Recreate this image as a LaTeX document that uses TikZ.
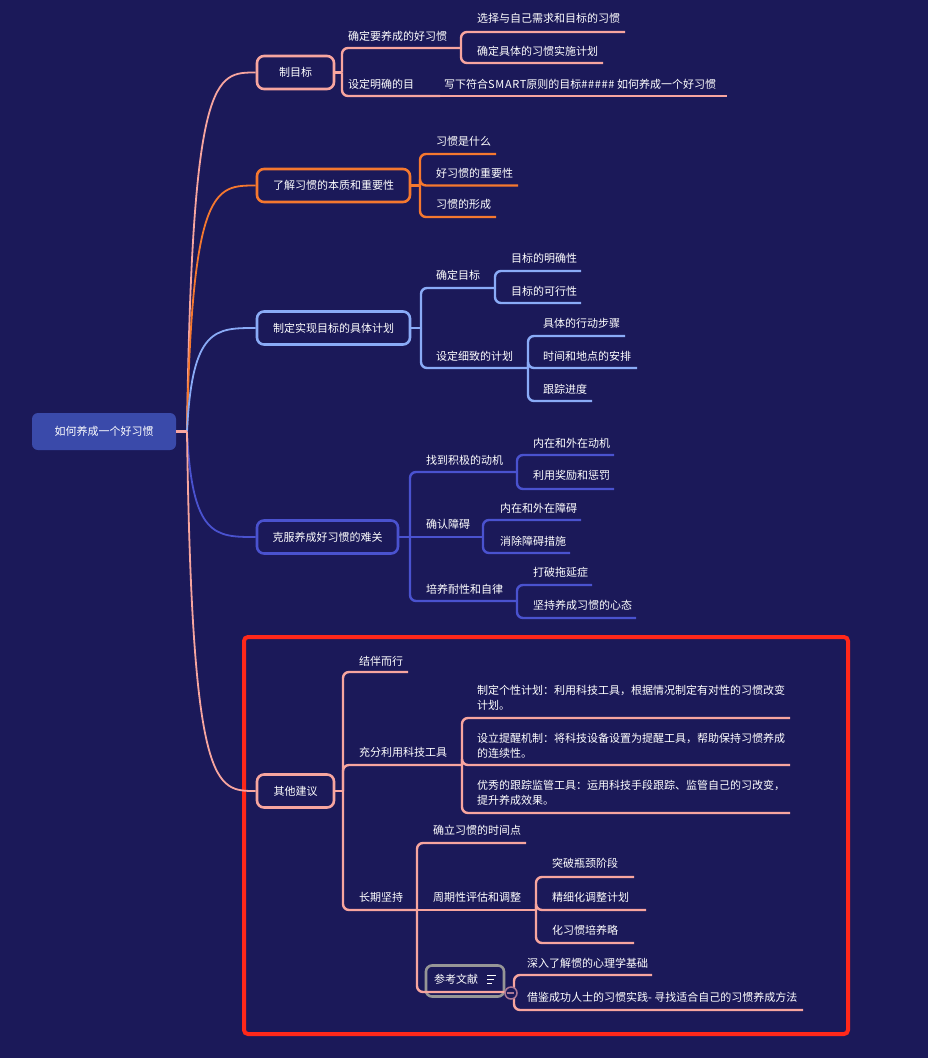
\documentclass[tikz,border=0pt]{standalone}
\usepackage{fontspec}
\setmainfont{Noto Sans CJK SC}
\definecolor{bgc}{RGB}{27,25,89}
\definecolor{rootc}{RGB}{58,74,170}
\definecolor{pinkc}{RGB}{247,165,159}
\definecolor{orangec}{RGB}{245,120,47}
\definecolor{bluec}{RGB}{138,171,247}
\definecolor{indigoc}{RGB}{74,82,207}
\definecolor{redc}{RGB}{255,40,26}
\definecolor{grayc}{RGB}{150,150,150}
\definecolor{colc}{RGB}{170,120,150}
\begin{document}
\begin{tikzpicture}[x=1pt,y=-1pt,
  every node/.style={text=white,font=\fontsize{11}{15}\selectfont},
  mainbox/.style={draw,line width=2.6pt,rounded corners=7pt,fill=bgc,inner sep=0pt,minimum height=33pt},
  lbl/.style={anchor=west,inner sep=0pt},
  conn/.style={line width=2.4pt,rounded corners=6pt},
  curv/.style={line width=1.8pt}]
\fill[bgc] (0,0) rectangle (928,1058);
\useasboundingbox (0,0) rectangle (928,1058);

% red frame
\draw[redc,line width=4pt,rounded corners=4pt] (244,637) rectangle (848,1034);

% root
\node[fill=rootc,rounded corners=6pt,minimum width=144pt,minimum height=37pt,inner sep=0pt] (root) at (104,431.5) {如何养成一个好习惯};
\coordinate (hub) at (187,431.5);

% main topics
\node[mainbox,draw=pinkc,minimum width=77pt] (m1) at (295.5,72.5) {制目标};
\node[mainbox,draw=orangec,minimum width=153pt] (m2) at (333.5,185.5) {了解习惯的本质和重要性};
\node[mainbox,draw=bluec,minimum width=153pt] (m3) at (333.5,328) {制定实现目标的具体计划};
\node[mainbox,draw=indigoc,minimum width=141pt] (m4) at (327.5,537) {克服养成好习惯的难关};
\node[mainbox,draw=pinkc,minimum width=77pt] (m5) at (295.5,791) {其他建议};

\draw[curv,pinkc] (hub) .. controls (192,72.5) and (215,72.5) .. (m1.west);
\draw[curv,orangec] (hub) .. controls (192,185.5) and (215,185.5) .. (m2.west);
\draw[curv,bluec] (hub) .. controls (192,328) and (215,328) .. (m3.west);
\draw[curv,indigoc] (hub) .. controls (192,537) and (215,537) .. (m4.west);
\draw[curv,pinkc] (hub) .. controls (192,791) and (215,791) .. (m5.west);
\draw[line width=2.4pt,pinkc] (root.east) -- (hub);

% ---------- branch 1
\coordinate (s1) at (342,72.5);
\draw[conn,pinkc] (m1.east) -- (s1);
\node[lbl] (t11) at (348,36) {确定要养成的好习惯};
\coordinate (u11) at (461,48);
\draw[conn,pinkc] (s1) |- (u11);
\node[lbl] (t111) at (477,18) {选择与自己需求和目标的习惯};
\coordinate (u111) at (625,32);
\node[lbl] (t112) at (477,51) {确定具体的习惯实施计划};
\coordinate (u112) at (603,63);
\draw[conn,pinkc] (u11) |- (u111);
\draw[conn,pinkc] (u11) |- (u112);
\node[lbl] (t12) at (348,84) {设定明确的目};
\coordinate (u12) at (440,96);
\draw[conn,pinkc] (s1) |- (u12);
\node[lbl] (t121) at (444,84) {写下符合{\addfontfeature{LetterSpace=6}SMART}原则的目标{\addfontfeature{LetterSpace=6}\#\#\#\#\#} 如何养成一个好习惯};
\coordinate (u121) at (727,96);
\draw[conn,pinkc] (u12) -- (u121);

% ---------- branch 2
\coordinate (s2) at (420,185.5);
\draw[conn,orangec] (m2.east) -- (s2);
\node[lbl] (t21) at (436,141) {习惯是什么};
\coordinate (u21) at (496,154);
\node[lbl] (t22) at (436,173) {好习惯的重要性};
\coordinate (u22) at (518,185.5);
\node[lbl] (t23) at (436,204) {习惯的形成};
\coordinate (u23) at (496,217);
\draw[conn,orangec] (s2) |- (u21);
\draw[conn,orangec] (s2) |- (u22);
\draw[conn,orangec] (s2) |- (u23);

% ---------- branch 3
\coordinate (s3) at (421,328);
\draw[conn,bluec] (m3.east) -- (s3);
\node[lbl] (t31) at (436,275) {确定目标};
\coordinate (u31) at (495,288);
\draw[conn,bluec] (s3) |- (u31);
\node[lbl] (t311) at (511,258) {目标的明确性};
\coordinate (u311) at (581,271);
\node[lbl] (t312) at (511,291) {目标的可行性};
\coordinate (u312) at (581,303);
\draw[conn,bluec] (u31) |- (u311);
\draw[conn,bluec] (u31) |- (u312);
\node[lbl] (t32) at (436,356) {设定细致的计划};
\coordinate (u32) at (528,368);
\draw[conn,bluec] (s3) |- (u32);
\node[lbl] (t321) at (543,323) {具体的行动步骤};
\coordinate (u321) at (625,336);
\node[lbl] (t322) at (543,356) {时间和地点的安排};
\coordinate (u322) at (637,368);
\node[lbl] (t323) at (543,389) {跟踪进度};
\coordinate (u323) at (592,401);
\draw[conn,bluec] (u32) |- (u321);
\draw[conn,bluec] (u32) |- (u322);
\draw[conn,bluec] (u32) |- (u323);

% ---------- branch 4
\coordinate (s4) at (410,537);
\draw[conn,indigoc] (m4.east) -- (s4);
\node[lbl] (t41) at (426,460) {找到积极的动机};
\coordinate (u41) at (517,472);
\draw[conn,indigoc] (s4) |- (u41);
\node[lbl] (t411) at (533,443) {内在和外在动机};
\coordinate (u411) at (614,455);
\node[lbl] (t412) at (533,475) {利用奖励和惩罚};
\coordinate (u412) at (614,489);
\draw[conn,indigoc] (u41) |- (u411);
\draw[conn,indigoc] (u41) |- (u412);
\node[lbl] (t42) at (426,524) {确认障碍};
\coordinate (u42) at (483,537);
\draw[conn,indigoc] (s4) -- (u42);
\node[lbl] (t421) at (500,508) {内在和外在障碍};
\coordinate (u421) at (581,520);
\node[lbl] (t422) at (500,541) {消除障碍措施};
\coordinate (u422) at (570,553);
\draw[conn,indigoc] (u42) |- (u421);
\draw[conn,indigoc] (u42) |- (u422);
\node[lbl] (t43) at (426,589) {培养耐性和自律};
\coordinate (u43) at (517,601);
\draw[conn,indigoc] (s4) |- (u43);
\node[lbl] (t431) at (533,572) {打破拖延症};
\coordinate (u431) at (592,585);
\node[lbl] (t432) at (533,605) {坚持养成习惯的心态};
\coordinate (u432) at (636,618);
\draw[conn,indigoc] (u43) |- (u431);
\draw[conn,indigoc] (u43) |- (u432);

% ---------- branch 5
\coordinate (s5) at (343,791);
\draw[conn,pinkc] (m5.east) -- (s5);
\node[lbl] (t51) at (359,661) {结伴而行};
\coordinate (u51) at (408,672);
\draw[conn,pinkc] (s5) |- (u51);
\node[lbl] (t52) at (359,752) {充分利用科技工具};
\coordinate (u52) at (462,765);
\draw[conn,pinkc] (s5) |- (u52);
\node[lbl,align=left] (t521) at (477,698) {制定个性计划：利用科技工具，根据情况制定有对性的习惯改变\\计划。};
\coordinate (u521) at (790,718);
\node[lbl,align=left] (t522) at (477,745.5) {设立提醒机制：将科技设备设置为提醒工具，帮助保持习惯养成\\的连续性。};
\coordinate (u522) at (790,765);
\node[lbl,align=left] (t523) at (477,792.5) {优秀的跟踪监管工具：运用科技手段跟踪、监管自己的习改变，\\提升养成效果。};
\coordinate (u523) at (790,813);
\draw[conn,pinkc] (u52) |- (u521);
\draw[conn,pinkc] (u52) |- (u522);
\draw[conn,pinkc] (u52) |- (u523);
\node[lbl] (t53) at (359,897) {长期坚持};
\coordinate (u53) at (417,910);
\draw[conn,pinkc] (s5) |- (u53);
\node[lbl] (t531) at (433,830) {确立习惯的时间点};
\coordinate (u531) at (526,843);
\draw[conn,pinkc] (u53) |- (u531);
\node[lbl] (t532) at (433,897) {周期性评估和调整};
\coordinate (u532) at (536,910);
\draw[conn,pinkc] (u53) -- (u532);
\node[lbl] (t5321) at (552,863) {突破瓶颈阶段};
\coordinate (u5321) at (634,877);
\node[lbl] (t5322) at (552,897) {精细化调整计划};
\coordinate (u5322) at (646,910);
\node[lbl] (t5323) at (552,930) {化习惯培养略};
\coordinate (u5323) at (634,943);
\draw[conn,pinkc] (u532) |- (u5321);
\draw[conn,pinkc] (u532) |- (u5322);
\draw[conn,pinkc] (u532) |- (u5323);

% reference topic (selected)
\node[draw=grayc,line width=2.6pt,rounded corners=6pt,minimum width=78pt,minimum height=31pt,inner sep=0pt,fill=bgc] (t533) at (465,981) {};
\node[lbl] (t533txt) at (434,979) {参考文献};
\coordinate (ic) at (487,979);
\draw[white,line width=1pt] (ic) ++(0,-4) -- ++(9,0) (ic) -- ++(7,0) (ic) ++(0,4) -- ++(5,0);
\coordinate (u533) at (506,992);
\draw[conn,pinkc] (u53) |- (u533);
\coordinate (sp6) at (514,992);
\node[lbl] (t5331) at (527,963) {深入了解惯的心理学基础};
\coordinate (u5331) at (652,975);
\node[lbl] (t5332) at (527,997) {借鉴成功人士的习惯实践- 寻找适合自己的习惯养成方法};
\coordinate (u5332) at (803,1010);
\draw[conn,pinkc] (u533) -- (sp6);
\draw[conn,pinkc] (sp6) |- (u5331);
\draw[conn,pinkc] (sp6) |- (u5332);
\node[circle,draw=colc,line width=1.5pt,fill=bgc,minimum size=12pt,inner sep=0pt] (col) at (511,993) {};
\draw[colc,line width=1.5pt] (col.west) ++(2.5,0) -- ++(7,0);
\end{tikzpicture}
\end{document}
